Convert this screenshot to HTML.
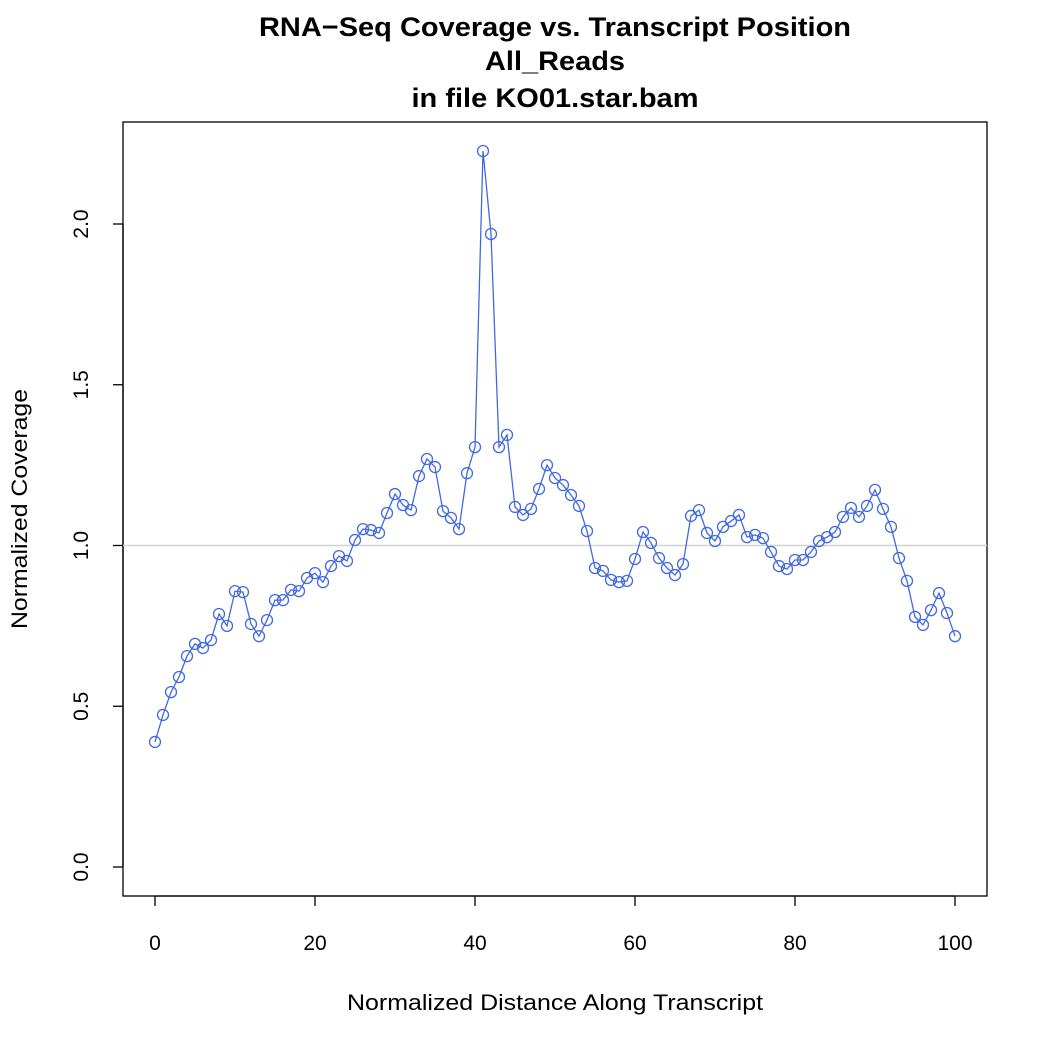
<!DOCTYPE html>
<html><head><meta charset="utf-8"><style>body{margin:0;background:#fff}svg{display:block;font-family:"Liberation Sans",Arial,sans-serif}</style></head>
<body>
<svg id="chart" width="1050" height="1050">
<text x="555" y="36" text-anchor="middle" font-size="27" font-weight="bold" textLength="592" lengthAdjust="spacingAndGlyphs">RNA−Seq Coverage vs. Transcript Position</text>
<text x="555" y="70" text-anchor="middle" font-size="27" font-weight="bold" textLength="140" lengthAdjust="spacingAndGlyphs">All_Reads</text>
<text x="555" y="107" text-anchor="middle" font-size="27" font-weight="bold" textLength="287" lengthAdjust="spacingAndGlyphs">in file KO01.star.bam</text>
<rect x="123" y="122" width="864" height="774" fill="none" stroke="#000" stroke-width="1.3"/>
<text x="555" y="1010" text-anchor="middle" font-size="22" textLength="416" lengthAdjust="spacingAndGlyphs">Normalized Distance Along Transcript</text>
<text transform="translate(27,509) rotate(-90)" text-anchor="middle" font-size="22" textLength="240" lengthAdjust="spacingAndGlyphs">Normalized Coverage</text>
<g id="axes"></g><g id="series"></g>
</svg>
<script>
const xTicks=[0,20,40,60,80,100];
const yTicks=[0,0.5,1,1.5,2];
const yTickLabels=["0.0","0.5","1.0","1.5","2.0"];
const positions=[];for(let i=0;i<=100;i++)positions.push(i);
const coverage=[0.389,0.473,0.544,0.591,0.656,0.694,0.681,0.706,0.787,0.750,0.858,0.855,0.756,0.718,0.768,0.830,0.830,0.862,0.858,0.899,0.914,0.886,0.936,0.967,0.952,1.017,1.051,1.048,1.039,1.101,1.160,1.126,1.110,1.216,1.269,1.244,1.107,1.086,1.051,1.225,1.306,2.227,1.969,1.306,1.344,1.120,1.095,1.114,1.176,1.250,1.210,1.188,1.157,1.123,1.045,0.930,0.921,0.893,0.886,0.890,0.958,1.042,1.008,0.961,0.930,0.908,0.942,1.092,1.110,1.039,1.014,1.058,1.076,1.095,1.026,1.033,1.023,0.980,0.936,0.927,0.955,0.955,0.980,1.014,1.026,1.042,1.089,1.117,1.089,1.123,1.173,1.114,1.058,0.961,0.890,0.778,0.753,0.799,0.852,0.790,0.718];
const refLine=1.0;
const X=v=>155+v*8, Y=v=>867-v*321.5;
const NS="http://www.w3.org/2000/svg";
const ax=document.getElementById('axes'), se=document.getElementById('series');
function mk(tag,a,p){const e=document.createElementNS(NS,tag);for(const k in a)e.setAttribute(k,a[k]);p.appendChild(e);return e;}
let e;
e=mk('line',{x1:X(0),x2:X(100),y1:896,y2:896,stroke:'#000','stroke-width':1.3},ax);


xTicks.forEach(t=>{e=mk('line',{x1:X(t),x2:X(t),y1:896,y2:906,stroke:'#000','stroke-width':1.3},ax);


e=mk('text',{x:X(t),y:950,'text-anchor':'middle','font-size':21},ax);e.textContent=t;

});
e=mk('line',{x1:123,x2:123,y1:Y(0),y2:Y(2),stroke:'#000','stroke-width':1.3},ax);


yTicks.forEach((t,i)=>{e=mk('line',{x1:113,x2:123,y1:Y(t),y2:Y(t),stroke:'#000','stroke-width':1.3},ax);


e=mk('text',{transform:`translate(88,${Y(t)}) rotate(-90)`,'text-anchor':'middle','font-size':21},ax);e.textContent=yTickLabels[i];

});
e=mk('line',{x1:123,x2:987,y1:Y(refLine),y2:Y(refLine),stroke:'#d3d3d3','stroke-width':1.5},se);


e=mk('polyline',{points:coverage.map((v,i)=>X(positions[i])+','+Y(v)).join(' '),fill:'none',stroke:'#4169e1','stroke-width':1.3},se);


coverage.forEach((v,i)=>{e=mk('circle',{cx:X(positions[i]),cy:Y(v),r:5.5,fill:'none',stroke:'#4169e1','stroke-width':1.3},se);

});
</script>
</body></html>
